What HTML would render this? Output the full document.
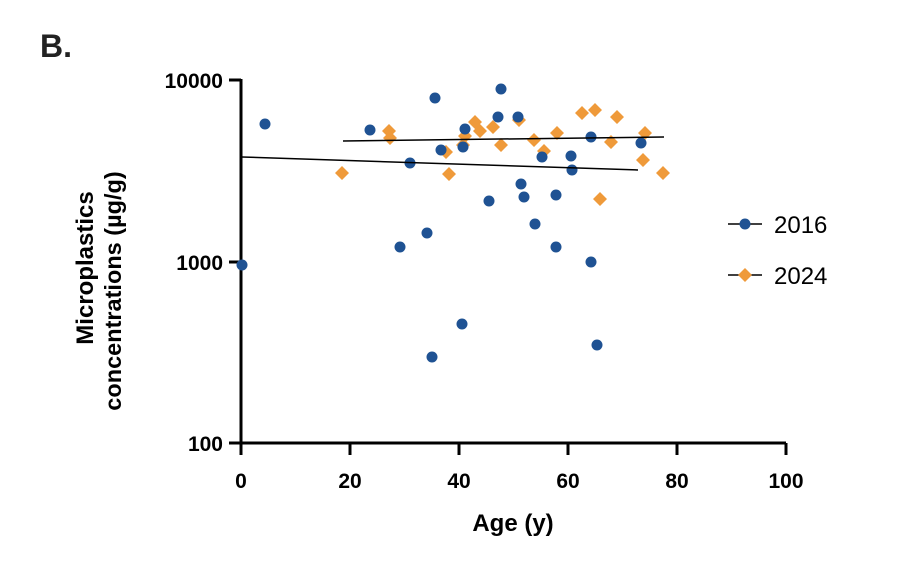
<!DOCTYPE html>
<html><head><style>body{margin:0;background:#fff}</style></head><body>
<svg width="906" height="558" xmlns="http://www.w3.org/2000/svg" font-family="Liberation Sans, Arial, sans-serif">
<text x="40" y="57" font-size="32" font-weight="bold" fill="#222">B.</text>
<g stroke="#000" stroke-width="3" fill="none">
<path d="M241,79 V443 H786"/>
<path d="M229,80 H241 M229,262 H241 M229,443 H241"/>
<path d="M241,443 V455 M350,443 V455 M459,443 V455 M568,443 V455 M677,443 V455 M786,443 V455"/>
</g>
<g font-size="21" font-weight="bold" text-anchor="end" fill="#000">
<text x="223" y="88">10000</text><text x="223" y="270">1000</text><text x="223" y="451">100</text>
</g>
<g font-size="21" font-weight="bold" text-anchor="middle" fill="#000">
<text x="241" y="488">0</text><text x="350" y="488">20</text><text x="459" y="488">40</text><text x="568" y="488">60</text><text x="677" y="488">80</text><text x="786" y="488">100</text>
<text x="513" y="531" font-size="24">Age (y)</text>
<text transform="translate(93,268) rotate(-90)" font-size="24">Microplastics</text>
<text transform="translate(121,291) rotate(-90)" font-size="23.5">concentrations (µg/g)</text>
</g>
<g fill="#ef9a3a">
<path d="M342,166l7,7l-7,7l-7,-7z M389,124l7,7l-7,7l-7,-7z M390,131l7,7l-7,7l-7,-7z M446,145l7,7l-7,7l-7,-7z M449,167l7,7l-7,7l-7,-7z M465,129l7,7l-7,7l-7,-7z M463,138l7,7l-7,7l-7,-7z M475,115l7,7l-7,7l-7,-7z M480,124l7,7l-7,7l-7,-7z M493,120l7,7l-7,7l-7,-7z M501,138l7,7l-7,7l-7,-7z M519,113l7,7l-7,7l-7,-7z M534,133l7,7l-7,7l-7,-7z M544,144l7,7l-7,7l-7,-7z M557,126l7,7l-7,7l-7,-7z M582,106l7,7l-7,7l-7,-7z M595,103l7,7l-7,7l-7,-7z M617,110l7,7l-7,7l-7,-7z M611,135l7,7l-7,7l-7,-7z M600,192l7,7l-7,7l-7,-7z M645,126l7,7l-7,7l-7,-7z M643,153l7,7l-7,7l-7,-7z M663,166l7,7l-7,7l-7,-7z"/>
</g>
<g fill="#1f5293">
<circle cx="265" cy="124" r="5.5"/><circle cx="370" cy="130" r="5.5"/><circle cx="435" cy="98" r="5.5"/><circle cx="501" cy="89" r="5.5"/><circle cx="498" cy="117" r="5.5"/><circle cx="518" cy="117" r="5.5"/><circle cx="465" cy="129" r="5.5"/><circle cx="463" cy="147" r="5.5"/><circle cx="441" cy="150" r="5.5"/><circle cx="410" cy="163" r="5.5"/><circle cx="591" cy="137" r="5.5"/><circle cx="641" cy="143" r="5.5"/><circle cx="542" cy="157" r="5.5"/><circle cx="571" cy="156" r="5.5"/><circle cx="572" cy="170" r="5.5"/><circle cx="521" cy="184" r="5.5"/><circle cx="524" cy="197" r="5.5"/><circle cx="556" cy="195" r="5.5"/><circle cx="489" cy="201" r="5.5"/><circle cx="535" cy="224" r="5.5"/><circle cx="427" cy="233" r="5.5"/><circle cx="400" cy="247" r="5.5"/><circle cx="556" cy="247" r="5.5"/><circle cx="591" cy="262" r="5.5"/><circle cx="242" cy="265" r="5.5"/><circle cx="462" cy="324" r="5.5"/><circle cx="597" cy="345" r="5.5"/><circle cx="432" cy="357" r="5.5"/>
</g>
<g stroke="#000" stroke-width="1.5">
<line x1="343" y1="141" x2="664" y2="137"/>
<line x1="242" y1="157" x2="638" y2="170"/>
<line x1="728" y1="224" x2="762" y2="224"/>
<line x1="728" y1="275" x2="762" y2="275"/>
</g>
<circle cx="745" cy="224" r="5.5" fill="#1f5293"/>
<path d="M745,268l7,7l-7,7l-7,-7z" fill="#ef9a3a"/>
<g font-size="24" fill="#000">
<text x="774" y="233">2016</text><text x="774" y="284">2024</text>
</g>
</svg>
</body></html>
